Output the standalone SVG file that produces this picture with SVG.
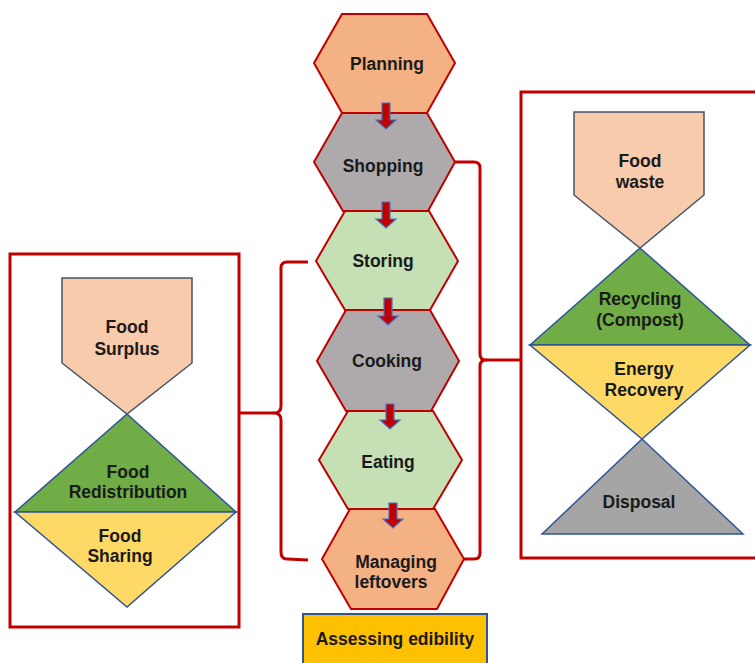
<svg xmlns="http://www.w3.org/2000/svg" width="755" height="663" viewBox="0 0 755 663">
<style>
.t{font-family:"Liberation Sans",Arial,sans-serif;font-weight:bold;font-size:17.5px;fill:#1a1a1a;text-anchor:middle}
.hex{stroke:#C00000;stroke-width:2;stroke-linejoin:miter}
.peach{fill:#F4B183}.gray{fill:#AEAAAC}.green{fill:#C5E0B4}
.frame{fill:none;stroke:#C00000;stroke-width:3}
.brace{fill:none;stroke:#C00000;stroke-width:3;stroke-linejoin:round}
.arrow{fill:#C00000;stroke:#4472C4;stroke-width:1.2}
.pent{fill:#F8CBAD;stroke:#44546A;stroke-width:1.5}
.tri{stroke:#2F5597;stroke-width:1.5;stroke-linejoin:miter}
</style>
<rect width="755" height="663" fill="#ffffff"/>

<g id="left-box">
  <rect class="frame" x="10" y="254" width="229" height="373"/>
  <g id="food-surplus">
    <polygon class="pent" points="62,278 192,278 192,363 127,414 62,363"/>
    <text class="t" x="127" y="333">Food</text>
    <text class="t" x="127" y="355">Surplus</text>
  </g>
  <g id="food-redistribution">
    <polygon class="tri" fill="#70AD47" points="127,414 236,512 15,512"/>
    <text class="t" x="128" y="478">Food</text>
    <text class="t" x="128" y="498">Redistribution</text>
  </g>
  <g id="food-sharing">
    <polygon class="tri" fill="#FFD966" points="15,512 236,512 127,607"/>
    <text class="t" x="120" y="542">Food</text>
    <text class="t" x="120" y="562">Sharing</text>
  </g>
</g>

<g id="right-box">
  <rect class="frame" x="521" y="92" width="260" height="466"/>
  <g id="food-waste">
    <polygon class="pent" points="574,112 704,112 704,195 640,248 574,195"/>
    <text class="t" x="640" y="167">Food</text>
    <text class="t" x="640" y="188">waste</text>
  </g>
  <g id="recycling">
    <polygon class="tri" fill="#70AD47" points="640,248 750,345 530,345"/>
    <text class="t" x="640" y="305">Recycling</text>
    <text class="t" x="640" y="326">(Compost)</text>
  </g>
  <g id="energy-recovery">
    <polygon class="tri" fill="#FFD966" points="530,345 750,345 642,439"/>
    <text class="t" x="644" y="375">Energy</text>
    <text class="t" x="644" y="396">Recovery</text>
  </g>
  <g id="disposal">
    <polygon class="tri" fill="#A5A5A5" points="642,439 743,534 542,534"/>
    <text class="t" x="639" y="508">Disposal</text>
  </g>
</g>

<g id="planning">
  <polygon class="hex peach" points="342,14 427,14 455,63 427,113 342,113 314,63"/>
  <text class="t" x="387" y="70">Planning</text>
</g>
<g id="shopping">
  <polygon class="hex gray" points="342,113 427,113 455,162 428,211 343,211 314,162"/>
  <text class="t" x="383" y="172">Shopping</text>
</g>
<g id="storing">
  <polygon class="hex green" points="345,211 429,211 458,261 430,310 345,310 316,261"/>
  <text class="t" x="383" y="267">Storing</text>
</g>
<g id="cooking">
  <polygon class="hex gray" points="346,310 430,310 459,361 431,411 346,411 317,361"/>
  <text class="t" x="387" y="367">Cooking</text>
</g>
<g id="eating">
  <polygon class="hex green" points="348,411 433,411 462,460 433,509 348,509 319,460"/>
  <text class="t" x="388" y="468">Eating</text>
</g>
<g id="managing-leftovers">
  <polygon class="hex peach" points="350,509 435,509 464,559 437,609 351,609 322,559"/>
  <text class="t" x="396" y="568">Managing</text>
  <text class="t" x="391" y="588">leftovers</text>
</g>
<g id="assessing-edibility">
  <rect x="303" y="614" width="184" height="60" fill="#FFC000" stroke="#2F5597" stroke-width="2"/>
  <text class="t" x="395" y="645">Assessing edibility</text>
</g>

<g id="connectors">
  <polygon class="arrow" points="382,103 390,103 390,120 396,120 386,129 376,120 382,120"/>
  <polygon class="arrow" points="382,202 390,202 390,219 396,219 386,228 376,219 382,219"/>
  <polygon class="arrow" points="384,298 392,298 392,316 398,316 388,325 378,316 384,316"/>
  <polygon class="arrow" points="386,404 394,404 394,420 400,420 390,429 380,420 386,420"/>
  <polygon class="arrow" points="389,503 397,503 397,519 403,519 393,528 383,519 389,519"/>
  <path class="brace" d="M308,262 L287,262 Q281,262 281,268 L281,406 Q281,413 274,413 Q281,413 281,420 L281,552 Q281,559 287,559 L308,560"/>
  <path class="brace" d="M240,413 L274,413"/>
  <path class="brace" d="M455,162 L474,162 Q480,162 480,168 L480,354 Q480,360 486,360 Q480,360 480,366 L480,553 Q480,559 474,559 L464,559"/>
  <path class="brace" d="M486,360 L521,360"/>
</g>
</svg>
